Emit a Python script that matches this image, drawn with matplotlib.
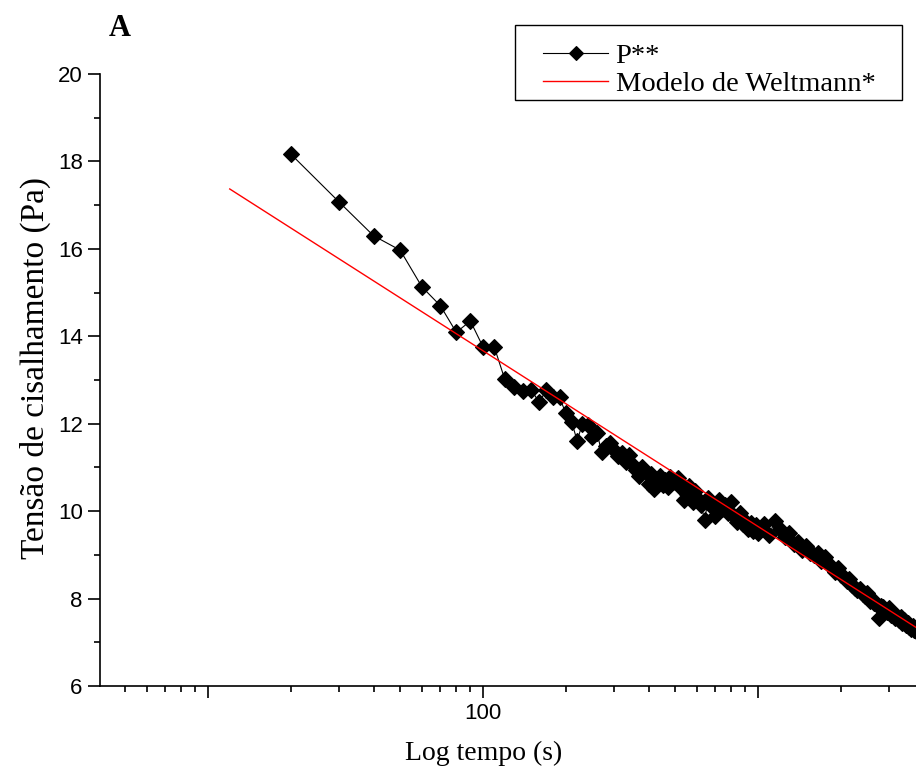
import numpy as np
import matplotlib
matplotlib.use("Agg")
import matplotlib.pyplot as plt
from matplotlib.ticker import FixedLocator, LogLocator, NullFormatter, MultipleLocator
from matplotlib.legend_handler import HandlerLine2D
from matplotlib.patches import Rectangle

# ---- data ----
time_s = list(range(20, 610, 10)) + list(range(620, 1010, 20)) + list(range(1050, 3800, 50))
stress_p = [
    18.17, 17.07, 16.30, 15.97, 15.13, 14.70, 14.09, 14.35, 13.76, 13.75,
    13.02, 12.85, 12.75, 12.77, 12.49, 12.77, 12.62, 12.60, 12.24, 12.05,
    11.61, 12.00, 11.97, 11.70, 11.78, 11.36, 11.48, 11.55, 11.40, 11.25,
    11.32, 11.12, 11.28, 11.05, 10.95, 10.80, 11.02, 10.90, 10.62, 10.85,
    10.50, 10.68, 10.80, 10.60, 10.72, 10.55, 10.78, 10.66, 10.70, 10.75,
    10.64, 10.50, 10.25, 10.40, 10.58, 10.35, 10.20, 10.45, 10.30,
    # 620 .. 1000 (step 20)
    10.15, 9.80, 10.30, 10.10, 9.90, 10.25, 10.05, 10.15, 9.95, 10.20,
    9.90, 9.75, 9.95, 9.70, 9.78, 9.60, 9.72, 9.55, 9.68, 9.50,
    # 1050 .. 3750 (step 50)
    9.70, 9.45, 9.78, 9.60, 9.40, 9.50, 9.25, 9.30, 9.10, 9.20,
    9.05, 9.00, 9.05, 8.85, 8.95, 8.80, 8.75, 8.60, 8.70, 8.55,
    8.50, 8.40, 8.45, 8.30, 8.25, 8.20, 8.22, 8.10, 8.05, 8.12,
    7.95, 8.00, 7.90, 7.85, 7.55, 7.82, 7.80, 7.75, 7.70, 7.78,
    7.62, 7.65, 7.55, 7.60, 7.50, 7.58, 7.45, 7.52, 7.40, 7.45,
    7.35, 7.30, 7.38, 7.28, 7.25,
]
model_t = [12, 4000]
model_y = [17.37, 7.23]

series_labels = ["P**", "Modelo de Weltmann*"]
x_major = [10, 100, 1000]
x_major_labels = ["", "100", ""]
y_ticks = [6, 8, 10, 12, 14, 16, 18, 20]

# ---- figure ----
W, H = 916, 776
fig = plt.figure(figsize=(W / 100, H / 100), dpi=100)
ax = fig.add_axes([100 / W, (H - 686) / H, 816 / W, (686 - 74) / H])

serif = ["Liberation Serif", "DejaVu Serif"]
sans = ["Liberation Sans", "DejaVu Sans"]

line_p, = ax.plot(time_s, stress_p, color="black", lw=0.8, marker="D",
                  ms=8.3, mfc="black", mec="black", mew=0.8, clip_on=True)
line_m, = ax.plot(model_t, model_y, color="red", lw=1.0)

ax.set_xscale("log")
ax.set_xlim(4.05, 3755)
ax.set_ylim(6, 20)

ax.xaxis.set_major_locator(FixedLocator(x_major))
ax.set_xticklabels(x_major_labels)
ax.xaxis.set_minor_locator(LogLocator(base=10, subs=np.arange(2, 10)))
ax.xaxis.set_minor_formatter(NullFormatter())
ax.yaxis.set_major_locator(FixedLocator(y_ticks))
ax.yaxis.set_minor_locator(MultipleLocator(1))

for s in ["top", "right"]:
    ax.spines[s].set_visible(False)
for s in ["left", "bottom"]:
    ax.spines[s].set_linewidth(1.2)

ax.tick_params(which="major", length=8.5, width=1.2, direction="out")
ax.tick_params(which="minor", length=4.3, width=1.2, direction="out")
ax.tick_params(axis="both", which="major", labelsize=16, pad=4)
for lab in ax.get_xticklabels() + ax.get_yticklabels():
    lab.set_fontfamily(sans)

ax.set_xlabel("Log tempo (s)", fontsize=20, fontfamily=serif)
ax.xaxis.set_label_coords((484 - 100) / 816, -0.09)
ax.set_ylabel("Tensão de cisalhamento (Pa)", fontsize=24, fontfamily=serif)
ax.yaxis.set_label_coords(-0.06, 0.52)

fig.text(120 / W, 1 - 28 / H, "A", fontsize=22, fontweight="bold",
         fontfamily=serif, ha="center", va="center")

# legend with a manually drawn frame
fig.patches.append(Rectangle((515 / W, 1 - 100 / H), (902 - 515) / W, 75 / H,
                             transform=fig.transFigure, fill=False,
                             edgecolor="black", lw=1.0))
leg = fig.legend([line_p, line_m], series_labels,
                 loc="upper left", bbox_to_anchor=(543 / W, 1 - 43 / H),
                 bbox_transform=fig.transFigure, frameon=False,
                 borderpad=0, borderaxespad=0, handlelength=2.3,
                 handletextpad=0.25, labelspacing=0.08, markerscale=0.8,
                 prop={"family": serif, "size": 20.5},
                 handler_map={line_p: HandlerLine2D(numpoints=1)})

fig.savefig("out.png", dpi=100)
